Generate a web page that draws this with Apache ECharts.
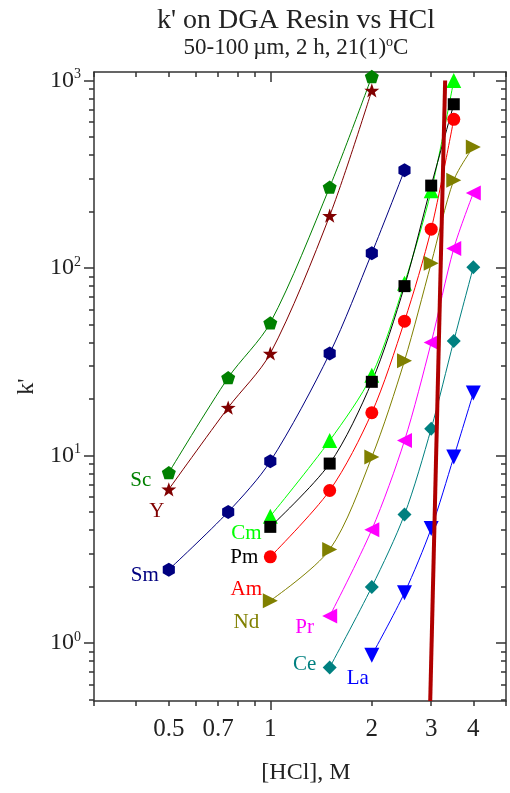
<!DOCTYPE html>
<html>
<head>
<meta charset="utf-8">
<script src="https://cdn.jsdelivr.net/npm/echarts@6/dist/echarts.min.js"></script>
<style>
  html, body { margin: 0; padding: 0; background: #fff; }
  #chart { width: 510px; height: 793px; }
</style>
</head>
<body>
<div id="chart"></div>
<script>
// values ([HCl] in M, k')
var scData = [[0.5, 8.1], [0.75, 26], [1, 51], [1.5, 270], [2, 1050]];
var yData  = [[0.5, 6.6], [0.75, 18], [1, 35], [1.5, 190], [2, 885]];
var smData = [[0.5, 2.46], [0.75, 5.0], [1, 9.3], [1.5, 35], [2, 120], [2.5, 332]];
var cmData = [[1, 4.74], [1.5, 12], [2, 26.8], [2.5, 83], [3, 258], [3.5, 1000]];
var pmData = [[1, 4.16], [1.5, 9.05], [2, 24.7], [2.5, 80], [3, 275], [3.5, 747]];
var amData = [[1, 2.88], [1.5, 6.5], [2, 16.9], [2.5, 52], [3, 161], [3.5, 621]];
var ndData = [[1, 1.68], [1.5, 3.15], [2, 9.8], [2.5, 32], [3, 106], [3.5, 294], [4, 442]];
var prData = [[1.5, 1.39], [2, 4.02], [2.5, 12], [3, 40], [3.5, 127], [4, 251]];
var ceData = [[1.5, 0.74], [2, 1.99], [2.5, 4.84], [3, 13.9], [3.5, 40.8], [4, 101]];
var laData = [[2, 0.86], [2.5, 1.85], [3, 4.08], [3.5, 9.8], [4, 21.5]];
var cutLine = [[3.3, 1000], [2.98, 0.49]];

var elements = ['Sc', 'Y', 'Sm', 'Cm', 'Pm', 'Am', 'Nd', 'Pr', 'Ce', 'La'];
var allData = [scData, yData, smData, cmData, pmData, amData, ndData, prData, ceData, laData];

// axis ticks
var xLabels = [0.5, 0.7, 1, 2, 3, 4];
var xMajor = [1];
var xMinor = [0.3, 0.4, 0.5, 0.6, 0.7, 0.8, 0.9, 2, 3, 4, 5];
var yMajor = [1, 10, 100, 1000];
var yMinor = [0.5, 0.6, 0.7, 0.8, 0.9, 2, 3, 4, 5, 6, 7, 8, 9,
              20, 30, 40, 50, 60, 70, 80, 90, 200, 300, 400, 500, 600, 700, 800, 900];

// styles
var colors = ['#008000', '#800000', '#000080', '#00ff00', '#000000',
              '#ff0000', '#808000', '#ff00ff', '#008080', '#0000ff'];
var pentagon = 'path://M0,-10 L9.51,-3.09 L5.88,8.09 L-5.88,8.09 L-9.51,-3.09 Z';
var star = 'path://M0,-10 L2.35,-3.24 L9.51,-3.09 L3.8,1.24 L5.88,8.09 L0,4 L-5.88,8.09 L-3.8,1.24 L-9.51,-3.09 L-2.35,-3.24 Z';
var hexagon = 'path://M0,-10 L8.66,-5 L8.66,5 L0,10 L-8.66,5 L-8.66,-5 Z';
var symbols = [pentagon, star, hexagon, 'triangle', 'rect', 'circle', 'triangle', 'triangle', 'diamond', 'triangle'];
var rotates = [0, 0, 0, 0, 0, 0, -90, 90, 0, 180];
var sizes = [14, 15, 14, 15, 12, 13, 15, 15, 14, 15];
var labelOffsets = [[-28, 8], [-12, 22], [-24, 6], [-24, 17], [-26, 31],
                    [-24, 33], [-24, 22], [-25, 11], [-25, -3], [-14, 23]];

var serif = '"Liberation Serif", "DejaVu Serif", serif';
var axisColor = '#333';
var xMin = 0.3, xMax = 5, yMin = 0.49, yMax = 1110;

function xAx(pos, ticks, len, inside, line) {
    return {
        type: 'log', position: pos, min: xMin, max: xMax,
        axisLine: { show: line, lineStyle: { color: axisColor, width: 1.5 } },
        axisTick: { show: true, customValues: ticks, length: len, inside: inside,
                    lineStyle: { color: axisColor, width: 1.5 } },
        axisLabel: { show: false },
        splitLine: { show: false }
    };
}
function yAx(pos, ticks, len, inside, line) {
    return {
        type: 'log', position: pos, min: yMin, max: yMax,
        axisLine: { show: line, lineStyle: { color: axisColor, width: 1.5 } },
        axisTick: { show: true, customValues: ticks, length: len, inside: inside,
                    lineStyle: { color: axisColor, width: 1.5 } },
        axisLabel: { show: false },
        splitLine: { show: false }
    };
}

var xAxes = [xAx('bottom', xMajor, 9, false, true), xAx('bottom', xMinor, 5, false, false),
             xAx('top', xMajor, 10, true, true), xAx('top', xMinor, 5, true, false)];
xAxes[0].axisLabel = {
    show: true, customValues: xLabels, margin: 16,
    fontFamily: serif, fontSize: 25, color: '#222'
};
xAxes[0].name = '[HCl], M';
xAxes[0].nameLocation = 'middle';
xAxes[0].nameGap = 60;
xAxes[0].nameTextStyle = { fontFamily: serif, fontSize: 24, color: '#222', padding: [0, 0, 0, 12] };

var yAxes = [yAx('left', yMajor, 10, false, true), yAx('left', yMinor, 5, false, false),
             yAx('right', yMajor, 10, true, true), yAx('right', yMinor, 5, true, false)];
yAxes[0].axisLabel = {
    show: true, customValues: yMajor, margin: 13,
    formatter: function (v) {
        return '{b|10}{s|' + Math.round(Math.log10(v)) + '}';
    },
    rich: {
        b: { fontFamily: serif, fontSize: 24, color: '#222' },
        s: { fontFamily: serif, fontSize: 14, color: '#222', padding: [0, 0, 12, 0] }
    }
};
yAxes[0].name = "k'";
yAxes[0].nameLocation = 'middle';
yAxes[0].nameRotate = 90;
yAxes[0].nameGap = 55;
yAxes[0].nameTextStyle = { fontFamily: serif, fontSize: 24, color: '#222' };

var series = [];
for (var i = 0; i < elements.length; i++) {
    series.push({
        name: elements[i],
        type: 'line',
        xAxisIndex: 0,
        yAxisIndex: 0,
        data: allData[i],
        smooth: 0.3,
        symbol: symbols[i],
        symbolSize: sizes[i],
        symbolRotate: rotates[i],
        symbolKeepAspect: true,
        showAllSymbol: true,
        itemStyle: { color: colors[i] },
        lineStyle: { color: colors[i], width: 1 },
        label: {
            show: true,
            position: 'inside',
            offset: labelOffsets[i],
            fontFamily: serif,
            fontSize: 21,
            color: colors[i],
            formatter: function (p) {
                return p.dataIndex === 0 ? p.seriesName : '';
            }
        },
        z: 3
    });
}
series.push({
    name: 'cut',
    type: 'line',
    xAxisIndex: 0,
    yAxisIndex: 0,
    data: cutLine,
    symbol: 'none',
    lineStyle: { color: '#b00000', width: 4 },
    z: 4
});

var chart = echarts.init(document.getElementById('chart'));
chart.setOption({
    animation: false,
    backgroundColor: '#fff',
    title: {
        text: "k' on DGA Resin vs HCl",
        subtext: '50-100\u2009\u00b5m, 2 h, 21(1){sup|o}C',
        left: 291,
        textAlign: 'center',
        top: 2,
        itemGap: 0,
        textStyle: { fontFamily: serif, fontSize: 28, fontWeight: 'normal', color: '#222' },
        subtextStyle: {
            fontFamily: serif, fontSize: 23, color: '#222',
            rich: { sup: { fontFamily: serif, fontSize: 14, color: '#222', padding: [0, 0, 12, 0] } }
        }
    },
    grid: { left: 94, right: 4, top: 72, bottom: 92 },
    xAxis: xAxes,
    yAxis: yAxes,
    series: series
});
</script>
</body>
</html>
